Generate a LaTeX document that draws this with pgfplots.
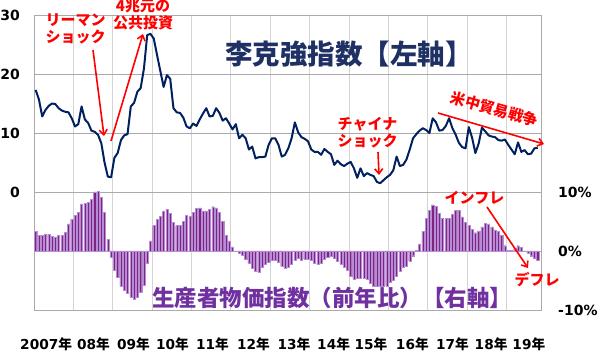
\documentclass[border=0pt]{standalone}
\usepackage{pgfplots}
\pgfplotsset{compat=1.18}
\usepackage{pgfplotstable}
\usepackage{fontspec}
\usetikzlibrary{arrows.meta}
\newfontfamily\dv{DejaVu Sans}
\newfontfamily\jp{Noto Sans CJK JP}
\definecolor{navy}{RGB}{0,32,96}
\definecolor{titlenavy}{RGB}{31,48,100}
\definecolor{ppipurple}{RGB}{112,48,160}
\definecolor{barfill}{RGB}{128,36,128}
\definecolor{baredge}{RGB}{180,140,215}
\definecolor{hgrid}{RGB}{170,170,170}
\definecolor{vgrid}{RGB}{212,212,212}
\newcommand\yr[1]{{\dv #1}{\jp 年}}

\pgfplotstableread{
m v
0 17.3
1 15.7
2 12.8
3 13.9
4 14.6
5 15.0
6 14.9
7 14.2
8 13.8
9 13.6
10 13.5
11 12.5
12 11.1
13 11.5
14 14.5
15 12.3
16 11.7
17 10.4
18 10.2
19 9.7
20 8.3
21 5.0
22 2.6
23 2.5
24 5.8
25 6.6
26 8.8
27 9.6
28 9.8
29 14.5
30 15.1
31 17.0
32 17.6
33 20.9
34 26.6
35 26.8
36 26.0
37 23.2
38 20.5
39 17.8
40 19.8
41 19.2
42 14.2
43 13.5
44 13.4
45 12.6
46 11.1
47 10.8
48 11.6
49 11.2
50 12.3
51 13.3
52 14.2
53 12.8
54 12.9
55 14.2
56 13.4
57 12.1
58 12.5
59 11.6
60 10.6
61 11.5
62 9.1
63 9.7
64 9.1
65 7.2
66 7.7
67 5.7
68 5.9
69 5.9
70 6.0
71 8.0
72 9.1
73 9.1
74 8.0
75 6.0
76 6.3
77 7.4
78 9.1
79 11.8
80 10.1
81 9.3
82 9.0
83 8.6
84 7.2
85 6.8
86 6.8
87 6.3
88 7.3
89 6.8
90 6.4
91 4.6
92 5.3
93 4.7
94 4.4
95 4.8
96 5.1
97 4.0
98 2.4
99 4.0
100 2.7
101 3.2
102 2.9
103 2.7
104 1.7
105 1.5
106 2.0
107 2.5
108 2.9
109 3.7
110 6.0
111 4.4
112 4.6
113 5.5
114 7.2
115 9.1
116 9.8
117 10.4
118 10.8
119 10.5
120 10.0
121 12.5
122 11.8
123 10.4
124 10.5
125 11.2
126 12.5
127 10.8
128 9.7
129 8.3
130 7.6
131 7.4
132 11.0
133 9.2
134 6.6
135 8.2
136 10.9
137 10.3
138 9.6
139 9.4
140 9.3
141 8.8
142 8.7
143 8.9
144 8.0
145 7.2
146 6.4
147 8.4
148 6.8
149 7.1
150 6.4
151 6.5
152 7.4
153 7.5
}\lki

\pgfplotstableread{
m p
0 3.3
1 2.6
2 2.7
3 2.9
4 2.8
5 2.5
6 2.4
7 2.6
8 2.7
9 3.2
10 4.6
11 5.4
12 6.1
13 6.6
14 8.0
15 8.1
16 8.2
17 8.8
18 10.0
19 10.1
20 9.1
21 6.6
22 2.0
23 -1.1
24 -3.3
25 -4.5
26 -6.0
27 -6.6
28 -7.2
29 -7.8
30 -8.2
31 -7.9
32 -7.0
33 -5.8
34 -2.1
35 1.7
36 4.3
37 5.4
38 5.9
39 6.8
40 7.1
41 6.4
42 4.8
43 4.3
44 4.3
45 5.0
46 6.1
47 5.9
48 6.6
49 7.2
50 7.3
51 6.8
52 6.8
53 7.1
54 7.5
55 7.3
56 6.5
57 5.0
58 2.7
59 1.7
60 0.7
61 0.0
62 -0.3
63 -0.7
64 -1.4
65 -2.1
66 -2.9
67 -3.5
68 -3.6
69 -2.8
70 -2.2
71 -1.9
72 -1.6
73 -1.6
74 -1.9
75 -2.6
76 -2.9
77 -2.7
78 -2.3
79 -1.6
80 -1.3
81 -1.5
82 -1.4
83 -1.4
84 -1.6
85 -2.0
86 -2.3
87 -2.0
88 -1.4
89 -1.1
90 -0.9
91 -1.2
92 -1.8
93 -2.2
94 -2.7
95 -3.3
96 -4.3
97 -4.8
98 -4.6
99 -4.6
100 -4.6
101 -4.8
102 -5.4
103 -5.9
104 -5.9
105 -5.9
106 -5.9
107 -5.9
108 -5.3
109 -4.9
110 -4.3
111 -3.4
112 -2.8
113 -2.6
114 -1.7
115 -0.8
116 0.1
117 1.2
118 3.3
119 5.5
120 6.9
121 7.8
122 7.6
123 6.4
124 5.5
125 5.5
126 5.5
127 6.3
128 6.9
129 6.9
130 5.8
131 4.9
132 4.3
133 3.7
134 3.1
135 3.4
136 4.1
137 4.7
138 4.6
139 4.1
140 3.6
141 3.3
142 2.7
143 0.9
144 0.1
145 0.1
146 0.4
147 0.9
148 0.6
149 0.0
150 -0.3
151 -0.8
152 -1.2
153 -1.6
}\ppi

\begin{document}
\begin{tikzpicture}
\useasboundingbox (0,0) rectangle (600pt,352pt);
\begin{axis}[at={(34pt,42pt)},anchor=south west,scale only axis,
  width=507pt,height=295pt,
  xmin=0,xmax=154.5,ymin=-20,ymax=30,
  axis line style={draw=hgrid,line width=0.8pt},
  major tick length=0pt, minor tick length=0pt,
  xtick={3.7,18.1,30.3,42.2,54.4,66.9,79.2,91.3,102.7,115.3,127.5,139.3,150.8},
  xticklabels={\yr{2007},\yr{08},\yr{09},\yr{10},\yr{11},\yr{12},\yr{13},\yr{14},\yr{15},\yr{16},\yr{17},\yr{18},\yr{19}},
  minor xtick={12,24,...,144},
  xminorgrids=true, xmajorgrids=false,
  minor x grid style={vgrid,line width=0.8pt},
  ytick={-20,-10,0,10,20,30},
  yticklabels={,,0,10,20,30},
  ymajorgrids=true,
  major y grid style={hgrid,line width=0.8pt},
  xticklabel style={font=\bfseries\fontsize{13.7}{15}\selectfont,inner sep=0pt,anchor=north,yshift=-27.5pt},
  yticklabel style={font=\dv\bfseries\fontsize{14}{16}\selectfont,inner sep=0pt,anchor=east,xshift=-14pt},
]
\addplot[navy,line width=2pt,line join=round] table[x expr=\thisrow{m}+0.5,y=v]{\lki};
\end{axis}
\begin{axis}[at={(34pt,42pt)},anchor=south west,scale only axis,
  width=507pt,height=295pt,
  xmin=0,xmax=154.5,ymin=-10,ymax=40,
  hide x axis, axis y line*=right, y axis line style={draw=none},
  major tick length=0pt,
  ytick={-10,0,10}, yticklabels={-10\%,0\%,10\%},
  yticklabel style={font=\dv\bfseries\fontsize{14}{16}\selectfont,inner sep=0pt,anchor=west,xshift=17pt},
]
\addplot[ybar,bar width=2.1pt,fill=barfill,draw=baredge,line width=0.35pt] table[x expr=\thisrow{m}+0.5,y=p]{\ppi};
\end{axis}
\begin{scope}[x=1pt,y=-1pt,shift={(0pt,352pt)}]
\tikzset{ann/.style={red,font=\jp\bfseries\fontsize{15}{16.5}\selectfont,inner sep=0pt,align=center},
         arr/.style={red,line width=1.6pt,-{Straight Barb[length=5pt,width=8pt]}}}
\node[titlenavy,font=\jp\bfseries\fontsize{27.5}{30}\selectfont,inner sep=0pt] at (349,54) {李克強指数【左軸】};
\node[ppipurple,font=\jp\bfseries\fontsize{22.5}{25}\selectfont,inner sep=0pt] at (332,298) {生産者物価指数（前年比）【右軸】};
\node[ann] at (75.5,29) {リーマン\\ショック};
\node[ann] at (143,14.5) {4兆元の\\公共投資};
\node[ann] at (367.5,132.5) {チャイナ\\ショック};
\node[ann,rotate=-15.5] at (494.5,109.5) {米中貿易戦争};
\node[ann] at (474.5,197.5) {インフレ};
\node[ann] at (537,280) {デフレ};
\draw[arr] (93,50) -- (104,136);
\draw[arr] (111,141) -- (143,34);
\draw[arr] (378,152) -- (379,175);
\draw[arr] (438,113) -- (544,144);
\draw[arr] (487,207) -- (528,268);
\end{scope}
\end{tikzpicture}
\end{document}
